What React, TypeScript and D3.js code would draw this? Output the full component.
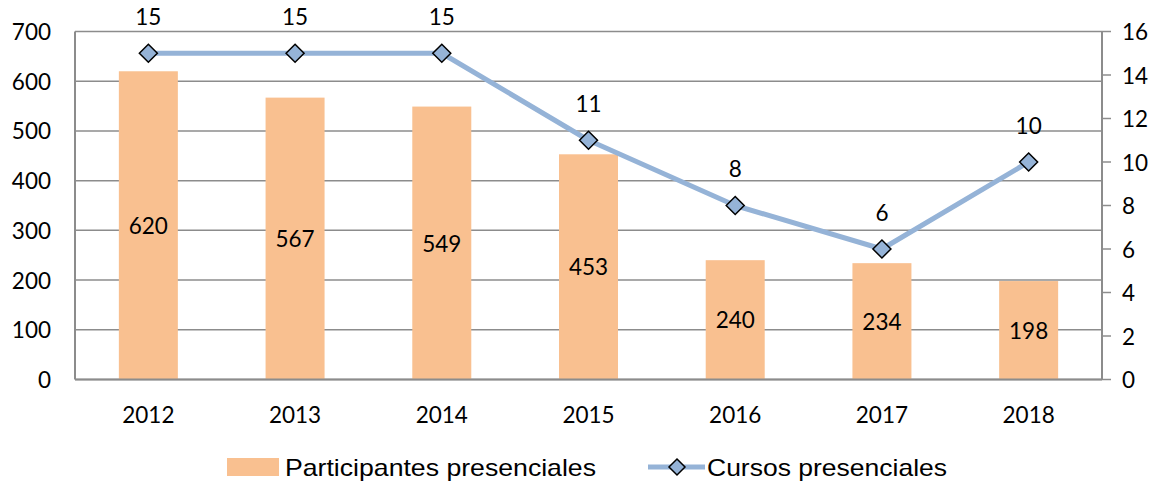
import React from "react";
import * as d3 from "d3";

const years = ["2012", "2013", "2014", "2015", "2016", "2017", "2018"];
const participantes = [620, 567, 549, 453, 240, 234, 198];
const cursos = [15, 15, 15, 11, 8, 6, 10];
const leftTicks = [0, 100, 200, 300, 400, 500, 600, 700];
const rightTicks = [0, 2, 4, 6, 8, 10, 12, 14, 16];

const W = 1159;
const H = 483;
const left = 75;
const right = 1102;
const top = 31.5;
const bottom = 379.5;
const font = "Lato, 'Open Sans', sans-serif";
const fs = 22.5;
const barColor = "#F9C090";
const lineColor = "#95B3D7";
const gridColor = "#8C8C8C";

export default function App() {
  const xc = d3.scalePoint<string>().domain(years).range([left, right]).padding(0.5);
  const yL = d3.scaleLinear().domain([0, 700]).range([bottom, top]);
  const yR = d3.scaleLinear().domain([0, 16]).range([bottom, top]);
  const line = d3
    .line<number>()
    .x((_, i) => xc(years[i])!)
    .y((d) => yR(d));
  const bw = 59;
  const diamond = (cx: number, cy: number, r = 9) =>
    `M${cx},${cy - r}L${cx + r},${cy}L${cx},${cy + r}L${cx - r},${cy}Z`;

  return (
    <svg width={W} height={H} style={{ position: "absolute", left: 0, top: 0 }}>
      <rect width={W} height={H} fill="#fff" />
      {leftTicks.map((t) => (
        <line key={"g" + t} x1={left} x2={right} y1={yL(t)} y2={yL(t)} stroke={gridColor} strokeWidth={1.5} />
      ))}
      {years.map((yr, i) => (
        <g key={"b" + yr}>
          <rect x={xc(yr)! - bw / 2} y={yL(participantes[i])} width={bw} height={bottom - yL(participantes[i])} fill={barColor} />
          <text
            x={xc(yr)!}
            y={(yL(participantes[i]) + bottom) / 2}
            textAnchor="middle"
            dominantBaseline="central"
            fontFamily={font}
            fontSize={fs}
            fill="#000"
          >
            {participantes[i]}
          </text>
        </g>
      ))}
      <line x1={left} x2={left} y1={top} y2={bottom} stroke={gridColor} strokeWidth={2} />
      <line x1={right} x2={right} y1={top} y2={bottom} stroke={gridColor} strokeWidth={2} />
      <line x1={left} x2={right} y1={bottom} y2={bottom} stroke={gridColor} strokeWidth={2} />
      {rightTicks.map((t) => (
        <g key={"r" + t}>
          <line x1={right} x2={right + 9} y1={yR(t)} y2={yR(t)} stroke={gridColor} strokeWidth={1.5} />
          <text x={right + 20} y={yR(t)} dominantBaseline="central" fontFamily={font} fontSize={fs} fill="#000">
            {t}
          </text>
        </g>
      ))}
      {leftTicks.map((t) => (
        <text key={"l" + t} x={51} y={yL(t)} textAnchor="end" dominantBaseline="central" fontFamily={font} fontSize={fs} fill="#000">
          {t}
        </text>
      ))}
      {years.map((yr) => (
        <text key={"x" + yr} x={xc(yr)!} y={414} textAnchor="middle" dominantBaseline="central" fontFamily={font} fontSize={fs} fill="#000">
          {yr}
        </text>
      ))}
      <path d={line(cursos) || ""} fill="none" stroke={lineColor} strokeWidth={5} strokeLinejoin="round" />
      {cursos.map((c, i) => (
        <g key={"c" + i}>
          <path d={diamond(xc(years[i])!, yR(c))} fill={lineColor} stroke="#000" strokeWidth={1.5} />
          <text
            x={xc(years[i])!}
            y={yR(c) - 37}
            textAnchor="middle"
            dominantBaseline="central"
            fontFamily={font}
            fontSize={fs}
            fill="#000"
          >
            {c}
          </text>
        </g>
      ))}
      <g>
        <rect x={227} y={458} width={52} height={18} fill={barColor} />
        <text
          x={285}
          y={467}
          dominantBaseline="central"
          fontFamily="'Liberation Sans Narrow', 'Liberation Sans', sans-serif"
          fontSize={24}
          textLength={311}
          lengthAdjust="spacingAndGlyphs"
          fill="#000"
        >
          Participantes presenciales
        </text>
        <line x1={648} x2={705} y1={467} y2={467} stroke={lineColor} strokeWidth={5} />
        <path d={diamond(677, 467, 8)} fill={lineColor} stroke="#000" strokeWidth={1.5} />
        <text
          x={707}
          y={467}
          dominantBaseline="central"
          fontFamily="'Liberation Sans Narrow', 'Liberation Sans', sans-serif"
          fontSize={24}
          textLength={240}
          lengthAdjust="spacingAndGlyphs"
          fill="#000"
        >
          Cursos presenciales
        </text>
      </g>
    </svg>
  );
}
